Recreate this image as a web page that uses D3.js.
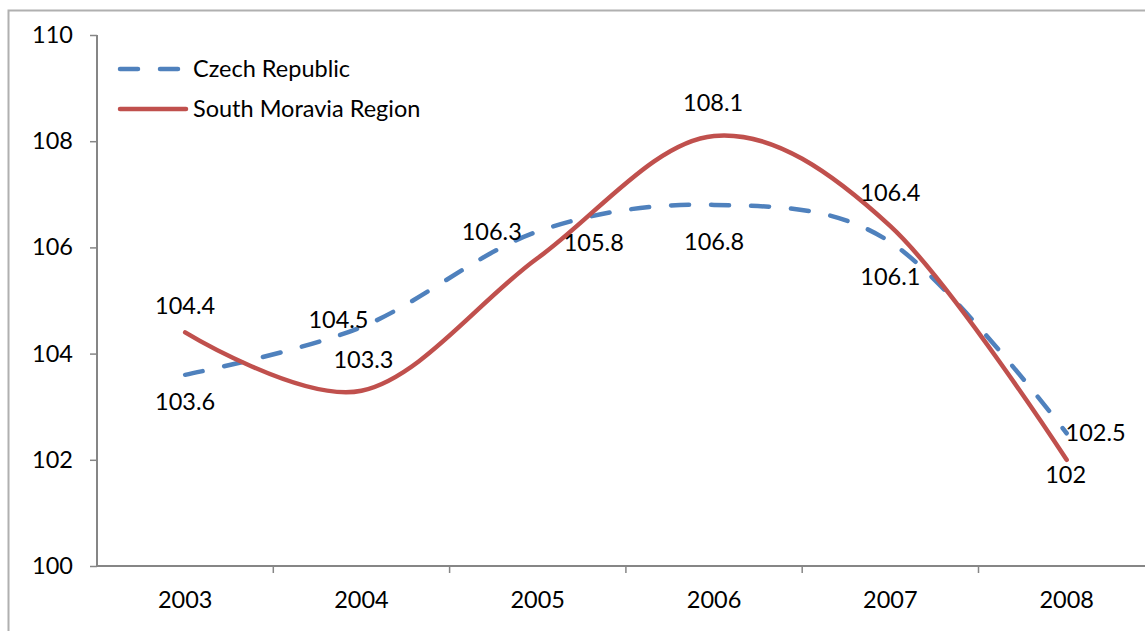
<!DOCTYPE html>
<html>
<head>
<meta charset="utf-8">
<script src="https://cdn.jsdelivr.net/npm/d3@7"></script>
<style>
  body { margin: 0; background: #fff; }
  text { font-family: Lato, "Open Sans", sans-serif; fill: #000; }
</style>
</head>
<body>
<script>
//chart data
var years = ["2003", "2004", "2005", "2006", "2007", "2008"];
var czech = [103.6, 104.5, 106.3, 106.8, 106.1, 102.5];
var moravia = [104.4, 103.3, 105.8, 108.1, 106.4, 102.0];
var yTicks = [100, 102, 104, 106, 108, 110];
var seriesNames = ["Czech Republic", "South Moravia Region"];

//label placement (dx, dy from the point), tuned by eye
var czechLabelPos = [[0, 27], [-23, -7], [-46, 0], [0, 37], [0, 35], [29, 0]];
var moraviaLabelPos = [[0, -27], [2, -31], [56, -15], [-1, -33], [0, -33], [-1, 15]];

var fontSize = "23.5px";

window.onload = drawChart();

function drawChart(){
    var width = 1145,
        height = 631;

    var svg = d3.select("body")
        .append("svg")
        .attr("width", width)
        .attr("height", height);

    //outer chart border, runs off the right and bottom edge
    svg.append("rect")
        .attr("x", 8.5)
        .attr("y", 10.5)
        .attr("width", width + 20)
        .attr("height", height + 20)
        .attr("fill", "none")
        .attr("stroke", "#b0b0b0")
        .attr("stroke-width", 2);

    //plot area
    var left = 97, top = 35, bottom = 566;
    var bandW = 176.3;

    var x = d3.scaleBand()
        .domain(years)
        .range([left, left + bandW * years.length]);

    var y = d3.scaleLinear()
        .domain([100, 110])
        .range([bottom, top]);

    //y axis
    var yAxis = svg.append("g")
        .attr("transform", "translate(" + left + ",0)")
        .call(d3.axisLeft(y).tickValues(yTicks).tickSize(7).tickPadding(17).tickFormat(d3.format("d")));
    yAxis.select(".domain").attr("stroke", "#868686").attr("stroke-width", 2).attr("d", "M0," + top + "V" + bottom);
    yAxis.selectAll(".tick line").attr("stroke", "#868686").attr("stroke-width", 1.5);
    yAxis.selectAll(".tick text").style("font-size", fontSize).attr("fill", "#000");

    //x axis, ticks sit between the categories
    var xAxis = svg.append("g")
        .attr("transform", "translate(0," + bottom + ")");
    xAxis.append("line")
        .attr("x1", left).attr("x2", width + 10)
        .attr("stroke", "#868686").attr("stroke-width", 2);
    xAxis.selectAll(".xtick")
        .data(years.slice(1))
        .enter()
        .append("line")
        .attr("class", "xtick")
        .attr("x1", function(d){ return x(d); })
        .attr("x2", function(d){ return x(d); })
        .attr("y1", 0).attr("y2", 7)
        .attr("stroke", "#868686").attr("stroke-width", 1.5);
    xAxis.selectAll(".xlabel")
        .data(years)
        .enter()
        .append("text")
        .attr("class", "xlabel")
        .attr("x", function(d){ return x(d) + x.bandwidth() / 2; })
        .attr("y", 42)
        .attr("text-anchor", "middle")
        .style("font-size", fontSize)
        .text(function(d){ return d; });

    //smooth lines
    var line = d3.line()
        .x(function(d, i){ return x(years[i]) + x.bandwidth() / 2; })
        .y(function(d){ return y(d); })
        .curve(d3.curveCardinal.tension(0));

    svg.append("path")
        .datum(czech)
        .attr("d", line)
        .attr("fill", "none")
        .attr("stroke", "#4f81bd")
        .attr("stroke-width", 4.5)
        .attr("stroke-linecap", "round")
        .attr("stroke-dasharray", "18,22");

    svg.append("path")
        .datum(moravia)
        .attr("d", line)
        .attr("fill", "none")
        .attr("stroke", "#c0504d")
        .attr("stroke-width", 4.5)
        .attr("stroke-linecap", "round");

    //data labels
    function addLabels(values, pos, cls){
        svg.selectAll("." + cls)
            .data(values)
            .enter()
            .append("text")
            .attr("class", cls)
            .attr("x", function(d, i){ return x(years[i]) + x.bandwidth() / 2 + pos[i][0]; })
            .attr("y", function(d, i){ return y(d) + pos[i][1]; })
            .attr("dy", "0.35em")
            .attr("text-anchor", "middle")
            .style("font-size", fontSize)
            .text(function(d){ return d; });
    }
    addLabels(czech, czechLabelPos, "czlabel");
    addLabels(moravia, moraviaLabelPos, "jmlabel");

    //legend
    var legend = svg.append("g");
    var legendY = [69, 109];
    legend.append("line")
        .attr("x1", 120).attr("x2", 186)
        .attr("y1", legendY[0]).attr("y2", legendY[0])
        .attr("stroke", "#4f81bd").attr("stroke-width", 4.5)
        .attr("stroke-linecap", "round").attr("stroke-dasharray", "18,22");
    legend.append("line")
        .attr("x1", 120).attr("x2", 186)
        .attr("y1", legendY[1]).attr("y2", legendY[1])
        .attr("stroke", "#c0504d").attr("stroke-width", 4.5)
        .attr("stroke-linecap", "round");
    legend.selectAll(".legtext")
        .data(seriesNames)
        .enter()
        .append("text")
        .attr("class", "legtext")
        .attr("x", 193)
        .attr("y", function(d, i){ return legendY[i]; })
        .attr("dy", "0.35em")
        .style("font-size", fontSize)
        .text(function(d){ return d; });
};
</script>
</body>
</html>
